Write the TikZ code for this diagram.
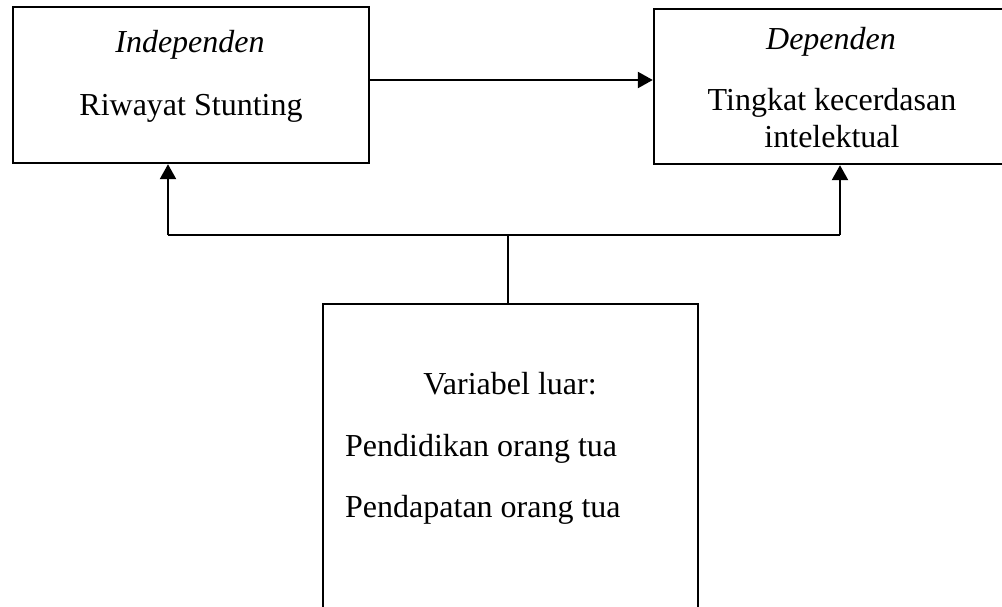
\documentclass[tikz,border=0pt]{standalone}
\usepackage{fontspec}
\setmainfont{Liberation Serif}
\usetikzlibrary{arrows.meta}
\begin{document}
\begin{tikzpicture}[x=1pt,y=-1pt,
  box/.style={draw,line width=2.4pt,rectangle,inner sep=0pt},
  txt/.style={inner sep=0pt,font=\fontsize{32}{38}\selectfont},
  conn/.style={line width=2.4pt},
  arr/.style={line width=2.4pt,-{Triangle[length=15pt,width=16pt]}}]
\useasboundingbox (0,0) rectangle (1002,607);
\clip (0,0) rectangle (1002,607);
\fill[white] (0,0) rectangle (1002,607);
% boxes
\node[box,minimum width=356pt,minimum height=156pt] (L) at (191,85) {};
\node[box,minimum width=356pt,minimum height=155pt] (R) at (832,86.5) {};
\node[box,minimum width=375pt,minimum height=330pt] (B) at (510.5,469) {};
% texts
\node[txt,anchor=base] (t1) at (190,53) {\itshape Independen};
\node[txt,anchor=base] (t2) at (191,116) {Riwayat Stunting};
\node[txt,anchor=base] (t3) at (831,50) {\itshape Dependen};
\node[txt,anchor=base] (t4) at (832,111) {Tingkat kecerdasan};
\node[txt,anchor=base] (t5) at (832,148) {intelektual};
\node[txt,anchor=base] (t6) at (510,394) {Variabel luar:};
\node[txt,anchor=base west] (t7) at (345,456) {Pendidikan orang tua};
\node[txt,anchor=base west] (t8) at (345,517) {Pendapatan orang tua};
% connectors
\coordinate (jl) at (168,235);
\coordinate (jr) at (840,235);
\coordinate (j) at (508,235);
\coordinate (h) at (0,80);
\draw[arr] (L.east |- h) -- (R.west |- h);
\draw[conn] (jl) -- (jr);
\draw[arr] (jl) -- (L.south -| jl);
\draw[arr] (jr) -- (R.south -| jr);
\draw[conn] (B.north -| j) -- (j);
\end{tikzpicture}
\end{document}
